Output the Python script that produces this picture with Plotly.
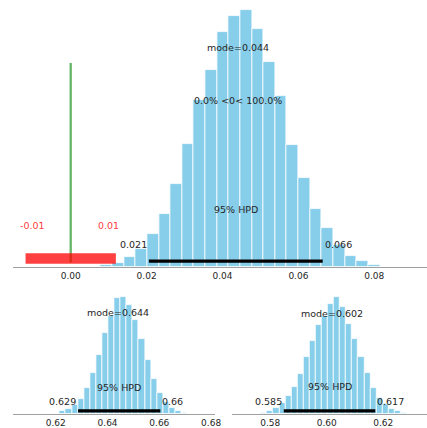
import plotly.graph_objects as go

# ---------------- data ----------------
# top panel: posterior of difference
top_bin_start = 0.0079
top_bin_width = 0.003065
top_counts = [1.3, 4, 10, 17.7, 32.3, 53, 82.7, 122.7, 166.7, 196.7, 234.3, 251,
              257, 237.7, 205, 170.7, 121.3, 88.7, 57.7, 38.7, 21.7, 10.7, 5.3, 1.7]
top_hpd = [0.0206, 0.0664]
top_mode = 0.044
top_ref_val = 0.0
top_ref_text = "0.0% <0< 100.0%"
top_rope = [-0.01, 0.01]
top_ticks = [0.0, 0.02, 0.04, 0.06, 0.08]

# bottom-left panel
bl_bin_start = 0.6215
bl_bin_width = 0.00235
bl_counts = [2.7, 4.7, 8.7, 14.7, 26, 41, 59.3, 81.3, 98, 116, 116.7, 109.3,
             93.7, 75.3, 53.7, 34.7, 21.3, 12, 6, 3.3, 1.3]
bl_hpd = [0.6286, 0.6604]
bl_mode = 0.644
bl_ticks = [0.62, 0.64, 0.66, 0.68]

# bottom-right panel
br_bin_start = 0.57674
br_bin_width = 0.00215
br_counts = [1.3, 2.7, 6, 10.7, 17.7, 27.3, 40, 56.7, 73.3, 88.7, 97.7, 110,
             117, 107, 90, 75.3, 57, 41.3, 26, 16, 10, 5.3, 2.7, 1]
br_hpd = [0.5848, 0.6172]
br_mode = 0.602
br_ticks = [0.58, 0.60, 0.62]

# ---------------- style ----------------
BAR_COLOR = "#87ceeb"
TEXT_COLOR = "#262626"
FONT = "DejaVu Sans"
FS = 9.5

fig = go.Figure()


def add_panel(n, start, width, counts, hpd, mode, text_fracs):
    xa = "x" if n == 1 else f"x{n}"
    ya = "y" if n == 1 else f"y{n}"
    centers = [start + (i + 0.5) * width for i in range(len(counts))]
    fig.add_trace(go.Bar(x=centers, y=counts, width=width, xaxis=xa, yaxis=ya,
                         marker=dict(color=BAR_COLOR, line=dict(color="white", width=0.8)),
                         showlegend=False, hoverinfo="skip"))
    m = max(counts)
    f_mode, f_hpdtxt, f_lab, f_line = text_fracs
    fig.add_trace(go.Scatter(x=hpd, y=[m * f_line] * 2, mode="lines", xaxis=xa, yaxis=ya,
                             line=dict(color="black", width=3.2), showlegend=False,
                             hoverinfo="skip"))
    ann = dict(xref=xa, yref=ya, showarrow=False, font=dict(family=FONT, size=FS, color=TEXT_COLOR))
    fig.add_annotation(x=mode, y=m * f_mode, text=f"mode={mode}", **ann)
    fig.add_annotation(x=(hpd[0] + hpd[1]) / 2, y=m * f_hpdtxt, text="95% HPD", **ann)
    fig.add_annotation(x=hpd[0], y=m * f_lab, text=str(round(hpd[0], 3)), xanchor="right", **ann)
    fig.add_annotation(x=hpd[1], y=m * f_lab, text=str(round(hpd[1], 3)), xanchor="left", **ann)
    return m


m_top = max(top_counts)
# reference line (green)
fig.add_trace(go.Scatter(x=[top_ref_val, top_ref_val], y=[m_top * 0.016, m_top * 0.793],
                         mode="lines", line=dict(color="rgba(20,140,20,0.65)", width=2.3),
                         showlegend=False, hoverinfo="skip"))
add_panel(1, top_bin_start, top_bin_width, top_counts, top_hpd, top_mode,
          (0.852, 0.223, 0.087, 0.022))
fig.add_annotation(x=top_mode, y=m_top * 0.645, text=top_ref_text, showarrow=False,
                   xref="x", yref="y", font=dict(family=FONT, size=FS, color=TEXT_COLOR))
# ROPE
pad = 0.0019
fig.add_shape(type="rect", xref="x", yref="y", x0=top_rope[0] - pad, x1=top_rope[1] + pad,
              y0=m_top * 0.011, y1=m_top * 0.052, fillcolor="rgba(255,0,0,0.75)",
              line=dict(width=0), layer="above")
for r in top_rope:
    fig.add_annotation(x=r, y=m_top * 0.161, text=str(r), showarrow=False, xref="x", yref="y",
                       font=dict(family=FONT, size=FS, color="rgba(255,0,0,0.8)"))

add_panel(2, bl_bin_start, bl_bin_width, bl_counts, bl_hpd, bl_mode,
          (0.866, 0.231, 0.103, 0.026))
add_panel(3, br_bin_start, br_bin_width, br_counts, br_hpd, br_mode,
          (0.863, 0.231, 0.103, 0.026))

W, H = 427, 428


def xax(dom, rng, ticks, anchor):
    return dict(domain=dom, range=rng, tickvals=ticks, ticktext=[f"{t:.2f}" for t in ticks],
                anchor=anchor, automargin=False,
                showline=True, linecolor="#a0a0a0", linewidth=1, ticks="", ticklen=0,
                showgrid=False, zeroline=False,
                tickfont=dict(family=FONT, size=9, color=TEXT_COLOR), fixedrange=True)


def yax(dom, rng):
    return dict(domain=dom, range=rng, visible=False, showgrid=False, zeroline=False,
                automargin=False)


fig.update_layout(
    width=W, height=H, margin=dict(l=0, r=0, t=0, b=0, autoexpand=False),
    paper_bgcolor="white", plot_bgcolor="white", bargap=0,
    xaxis=xax([13.3 / W, 1], [-0.01513, 0.09389], top_ticks, "y"),
    yaxis=yax([1 - 266.7 / H, 1], [0, 266.7]),
    xaxis2=xax([13.3 / W, 214.7 / W], [0.60358, 0.6814], bl_ticks, "y2"),
    yaxis2=yax([1 - 414 / H, 1 - 292 / H], [0, 122]),
    xaxis3=xax([231.7 / W, 1], [0.56637, 0.6355], br_ticks, "y3"),
    yaxis3=yax([1 - 414 / H, 1 - 292 / H], [0, 122]),
    showlegend=False,
)

fig.write_html("out.html", config={"displayModeBar": False},
               post_script="document.body.style.margin='0';document.body.style.padding='0';"
                           "document.body.style.overflow='hidden';")
